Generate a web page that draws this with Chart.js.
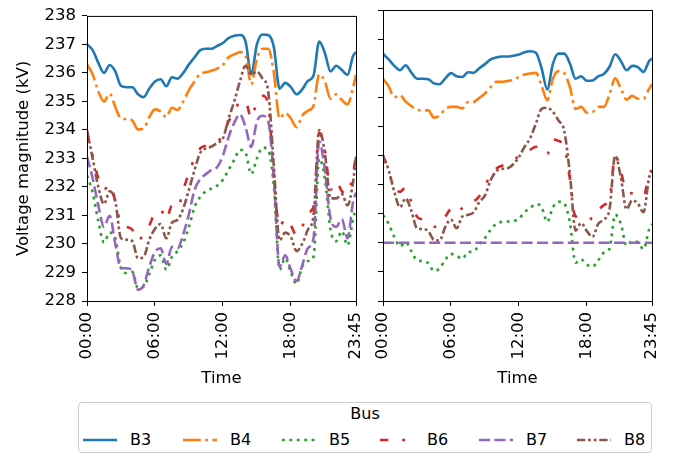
<!DOCTYPE html>
<html>
<head>
<meta charset="utf-8">
<script src="https://cdn.jsdelivr.net/npm/chart.js@4.4.0/dist/chart.umd.min.js"></script>
<style>
  body { margin: 0; width: 677px; height: 458px; overflow: hidden; position: relative; background: #fff;
         font-family: "DejaVu Sans", sans-serif; }
  canvas.panel { position: absolute; top: 0; }
  #left { left: 0; }
  #right { left: 370px; }
  #legend { position: absolute; left: 78px; top: 402px; width: 572px; height: 49px;
            border: 1px solid #cccccc; border-radius: 4px; background: #fff; }
  #legendTitle { position: absolute; top: 2px; left: 0; width: 100%; text-align: center;
                 font-size: 16px; line-height: 18px; color: #000; }
  .item { position: absolute; top: 29px; height: 16px; line-height: 16px; font-size: 16px; color: #000; }
  .item canvas { position: absolute; left: 0; top: 3px; }
  .item span { position: absolute; left: 47px; top: 0; white-space: nowrap; }
</style>
</head>
<body>
<canvas id="left" class="panel" width="370" height="400"></canvas>
<canvas id="right" class="panel" width="292" height="400"></canvas>
<div id="legend"><div id="legendTitle">Bus</div></div>
<script>
// time of day in hours (30 min steps, last one 23:45)
const hours = [
  0, 0.5, 1, 1.5, 2, 2.5, 3, 3.5,
  4, 4.5, 5, 5.5, 6, 6.5, 7, 7.5,
  8, 8.5, 9, 9.5, 10, 10.5, 11, 11.5,
  12, 12.5, 13, 13.5, 14, 14.5, 15, 15.5,
  16, 16.5, 17, 17.5, 18, 18.5, 19, 19.5,
  20, 20.5, 21, 21.5, 22, 22.5, 23, 23.5,
  23.75
];
const tickHours = [0, 6, 12, 18, 23.75];
const tickLabels = ['00:00', '06:00', '12:00', '18:00', '23:45'];
const yTicks = [228, 229, 230, 231, 232, 233, 234, 235, 236, 237, 238];
const busNames = ['B3', 'B4', 'B5', 'B6', 'B7', 'B8'];

// left panel
const leftB3 = [
  237.0, 236.8, 236.35, 236.0, 236.28, 236.05, 235.55, 235.5,
  235.5, 235.25, 235.15, 235.45, 235.7, 235.78, 235.53, 235.85,
  235.8, 236.0, 236.3, 236.55, 236.8, 236.85, 236.85, 236.95,
  237.05, 237.22, 237.3, 237.33, 237.1, 235.95, 237.0, 237.35,
  237.33, 236.9, 235.45, 235.65, 235.5, 235.25, 235.42, 235.72,
  235.9, 237.1, 236.7, 236.05, 236.25, 236.1, 235.93, 236.6,
  236.73
];
const leftB4 = [
  236.3, 235.95, 235.35, 235.0, 235.27, 234.8, 234.4, 234.38,
  234.33, 234.02, 234.05, 234.45, 234.72, 234.65, 234.45, 234.78,
  234.7, 235.0, 235.4, 235.7, 235.97, 236.02, 236.08, 236.15,
  236.28, 236.55, 236.65, 236.73, 236.6, 235.6, 236.5, 236.85,
  236.85, 236.0, 234.4, 234.6, 234.4, 234.1, 234.5, 234.67,
  234.85, 235.95, 235.7, 235.1, 235.25, 235.05, 234.9, 235.5,
  235.93
];
const leftB5 = [
  232.4, 231.8, 230.8, 230.05, 230.4, 230.2, 229.15, 228.98,
  229.02, 228.45, 228.5, 228.95, 229.45, 229.6, 229.1, 229.55,
  229.75, 230.05, 230.6, 231.3, 231.65, 231.85, 231.95, 232.05,
  232.25, 232.6, 232.95, 233.3, 233.2, 232.45, 233.0, 233.38,
  233.3, 232.0, 229.1, 229.5, 229.0, 228.6, 229.2, 229.4,
  229.55, 233.0, 232.3, 230.5, 230.1, 230.45, 229.95, 230.9,
  231.25
];
const leftB6 = [
  233.9, 233.1, 232.3, 231.9, 232.1, 231.5, 230.7, 230.6,
  230.5, 230.1, 230.35, 230.65, 231.1, 231.2, 230.85, 231.35,
  231.25, 231.9, 232.5, 233.0, 233.35, 233.45, 233.5, 233.6,
  233.8, 234.3, 234.6, 235.0, 235.0, 234.4, 235.0, 235.2,
  234.9, 232.3, 230.6, 230.9, 230.65, 230.3, 230.6, 231.1,
  231.3, 233.9, 233.3, 231.9, 232.2, 231.85, 231.75, 232.5,
  233.1
];
const leftB7 = [
  233.06, 232.3, 231.35, 230.6, 230.99, 230.0, 229.15, 229.15,
  229.05, 228.4, 228.55, 229.2, 229.72, 229.85, 229.3, 229.9,
  229.85, 230.35, 231.05, 231.9, 232.28, 232.45, 232.6, 232.7,
  233.1, 233.75, 234.25, 234.55, 234.1, 233.4, 234.3, 234.5,
  234.3, 232.3, 229.2, 229.6, 229.1, 228.7, 229.25, 229.85,
  230.2, 233.6, 232.6, 230.9, 230.6, 230.87, 230.2, 231.5,
  231.8
];
const leftB8 = [
  234.0, 233.0, 232.0, 231.4, 231.85, 231.5, 230.2, 230.15,
  230.1, 229.5, 229.55, 230.15, 230.53, 230.7, 230.2, 230.75,
  230.85, 231.25, 231.9, 232.6, 233.2, 233.35, 233.42, 233.55,
  233.7, 234.4, 235.0, 235.7, 236.25, 235.95, 236.05, 235.8,
  235.35, 232.7, 230.13, 230.4, 230.25, 229.75, 230.0, 230.5,
  231.0, 234.0, 233.2, 231.6, 231.6, 231.75, 231.35, 232.2,
  233.06
];

// right panel
const rightB3 = [
  236.5, 236.3, 236.08, 235.93, 236.1, 235.85, 235.64, 235.64,
  235.62, 235.48, 235.45, 235.65, 235.83, 235.72, 235.7, 235.86,
  235.84, 236.0, 236.14, 236.3, 236.37, 236.4, 236.4, 236.43,
  236.47, 236.55, 236.58, 236.53, 236.0, 235.27, 236.15, 236.5,
  236.5, 236.16, 235.64, 235.72, 235.57, 235.58, 235.72, 235.8,
  236.05, 236.48, 236.25, 235.93, 236.08, 236.04, 235.87, 236.25,
  236.33
];
const rightB4 = [
  235.64, 235.38, 235.0, 235.07, 234.85, 234.7, 234.57, 234.55,
  234.55, 234.3, 234.38, 234.6, 234.67, 234.67, 234.62, 234.84,
  234.84, 234.98, 235.13, 235.35, 235.53, 235.53, 235.56, 235.6,
  235.7, 235.78, 235.82, 235.84, 235.4, 234.9, 235.64, 235.9,
  235.83, 235.35, 234.6, 234.67, 234.47, 234.49, 234.67, 234.67,
  235.1, 235.65, 235.3, 234.92, 235.05, 234.95, 234.95, 235.3,
  235.45
];
const rightB5 = [
  230.95, 230.65, 230.2, 229.88, 230.02, 229.72, 229.4, 229.37,
  229.3, 229.03, 229.12, 229.42, 229.62, 229.55, 229.45, 229.68,
  229.7, 229.95, 230.16, 230.45, 230.65, 230.72, 230.73, 230.75,
  230.83, 231.05, 231.2, 231.33, 231.22, 230.72, 231.22, 231.41,
  231.35, 230.7, 229.32, 229.43, 229.25, 229.18, 229.4, 229.66,
  229.8, 230.97, 230.65, 229.9, 230.05, 230.02, 229.78, 230.47,
  230.65
];
const rightB6 = [
  233.0, 232.45, 231.9, 231.75, 231.9, 231.4, 230.9, 230.8,
  230.72, 230.55, 230.62, 230.9, 231.15, 231.0, 231.2, 231.35,
  231.42, 231.6, 231.97, 232.3, 232.55, 232.65, 232.72, 232.85,
  232.97, 233.1, 233.2, 233.3, 233.3, 233.05, 233.55, 233.5,
  233.3, 232.2, 230.9, 230.95, 230.95, 230.8, 231.1, 231.3,
  231.5, 233.0, 232.45, 231.75, 231.7, 231.65, 231.6, 232.37,
  232.5
];
const rightB7 = [
  230, 230, 230, 230, 230, 230, 230, 230,
  230, 230, 230, 230, 230, 230, 230, 230,
  230, 230, 230, 230, 230, 230, 230, 230,
  230, 230, 230, 230, 230, 230, 230, 230,
  230, 230, 230, 230, 230, 230, 230, 230,
  230, 230, 230, 230, 230, 230, 230, 230,
  230
];
const rightB8 = [
  233.0, 232.5, 231.75, 231.22, 231.53, 231.1, 230.5, 230.47,
  230.4, 230.1, 230.08, 230.55, 230.8, 230.5, 230.9, 230.96,
  231.05, 231.4, 231.62, 232.15, 232.46, 232.54, 232.56, 232.7,
  232.95, 233.3, 233.6, 234.1, 234.6, 234.64, 234.5, 234.2,
  233.85, 232.37, 230.42, 230.68, 230.4, 230.2, 230.65, 230.8,
  231.15, 233.0, 232.25, 231.15, 231.46, 231.35, 231.05, 232.25,
  232.45
];

// styles
const FONT = '"DejaVu Sans", sans-serif';
const FS = 16.5;
const busColors = ['#1f77b4', '#ff7f0e', '#2ca02c', '#d62728', '#9467bd', '#8c564b'];
const busDashes = [[], [17.8, 4.4, 2.8, 4.4], [2.8, 4.6], [8.3, 13.9, 2.8, 13.9], [11, 4.4], [8.3, 2.8, 2.8, 2.8, 2.8, 2.8]];
const LINE_W = 2.6;

const frame = {
  id: 'frame',
  afterDraw(chart) {
    const { ctx, chartArea: a } = chart;
    ctx.save();
    ctx.strokeStyle = '#000';
    ctx.lineWidth = 1;
    ctx.strokeRect(a.left + 0.5, a.top + 0.5, a.right - a.left, a.bottom - a.top);
    ctx.restore();
  }
};

function makeDatasets(series) {
  return series.map((vals, i) => ({
    label: busNames[i],
    data: hours.map((h, j) => ({ x: h, y: vals[j] })),
    borderColor: busColors[i],
    borderWidth: LINE_W,
    borderDash: busDashes[i],
    borderCapStyle: 'butt',
    borderJoinStyle: 'round',
    pointRadius: 0,
    cubicInterpolationMode: 'monotone',
    fill: false,
    order: series.length - i
  }));
}

function makeChart(id, series, yWidth, showY, padRight) {
  return new Chart(document.getElementById(id), {
    type: 'line',
    data: { datasets: makeDatasets(series) },
    options: {
      responsive: false,
      animation: false,
      devicePixelRatio: 1,
      layout: { padding: { top: 10, right: padRight, bottom: 0, left: 0 } },
      plugins: { legend: { display: false }, tooltip: { enabled: false } },
      scales: {
        x: {
          type: 'linear',
          min: 0,
          max: 23.75,
          afterBuildTicks: s => { s.ticks = tickHours.map(v => ({ value: v })); },
          afterFit: s => { s.height = 99; s.paddingLeft = 0; s.paddingRight = 0; },
          grid: { drawOnChartArea: false, color: '#000', lineWidth: 1, tickLength: 5 },
          border: { display: false },
          ticks: {
            autoSkip: false, minRotation: 90, maxRotation: 90, padding: 6, color: '#000',
            font: { family: FONT, size: FS },
            callback: v => tickLabels[tickHours.indexOf(v)]
          },
          title: { display: true, text: 'Time', color: '#000', font: { family: FONT, size: FS },
                   padding: { top: 0, bottom: 11 } }
        },
        y: {
          min: 228,
          max: 238,
          afterBuildTicks: s => { s.ticks = yTicks.map(v => ({ value: v })); },
          afterFit: s => { s.width = yWidth; },
          grid: { drawOnChartArea: false, color: '#000', lineWidth: 1, tickLength: 5 },
          border: { display: false },
          ticks: { display: showY, padding: 6, color: '#000', font: { family: FONT, size: FS } },
          title: { display: showY, text: 'Voltage magnitude (kV)', color: '#000',
                   font: { family: FONT, size: FS }, padding: { top: 14, bottom: 0 } }
        }
      }
    },
    plugins: [frame]
  });
}

makeChart('left', [leftB3, leftB4, leftB5, leftB6, leftB7, leftB8], 87, true, 14);
makeChart('right', [rightB3, rightB4, rightB5, rightB6, rightB7, rightB8], 13, false, 10);

// legend
const itemLeft = [4, 104, 203, 301, 400, 498];
const legend = document.getElementById('legend');
busNames.forEach((name, i) => {
  const item = document.createElement('div');
  item.className = 'item';
  item.style.left = itemLeft[i] + 'px';
  const c = document.createElement('canvas');
  c.width = 34; c.height = 10;
  const g = c.getContext('2d');
  g.strokeStyle = busColors[i];
  g.lineWidth = LINE_W;
  g.lineCap = 'butt';
  g.setLineDash(busDashes[i]);
  g.beginPath(); g.moveTo(0, 5); g.lineTo(34, 5); g.stroke();
  const s = document.createElement('span');
  s.textContent = name;
  item.appendChild(c);
  item.appendChild(s);
  legend.appendChild(item);
});
</script>
</body>
</html>
